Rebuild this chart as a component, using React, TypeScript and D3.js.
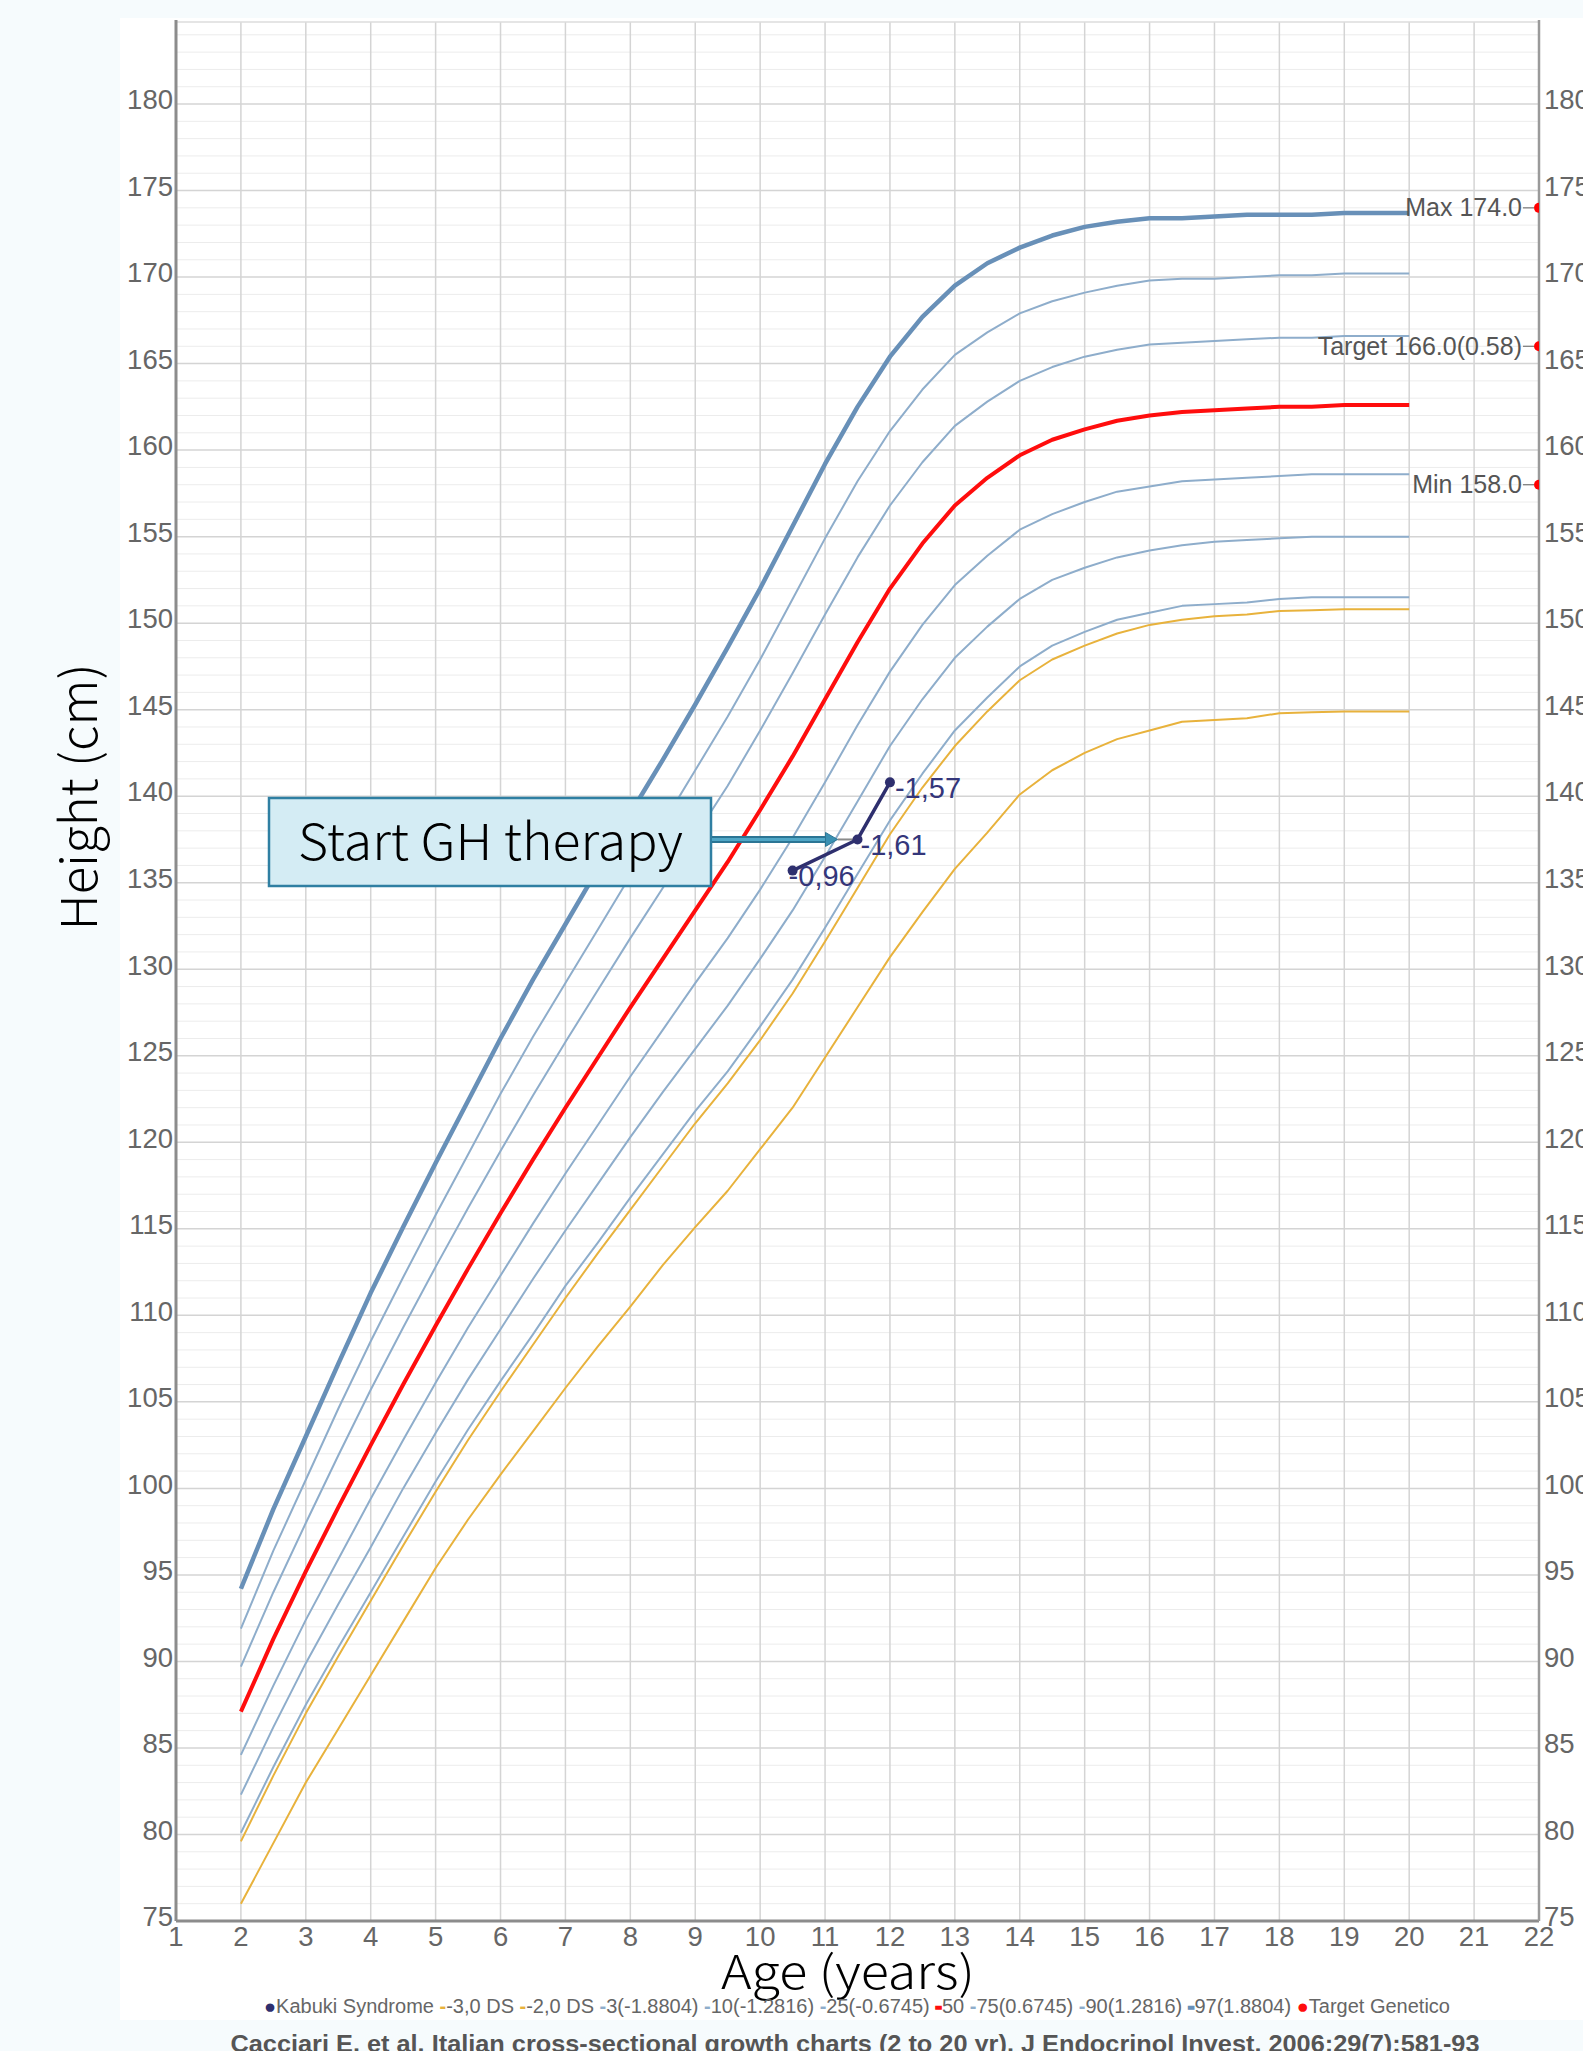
import React from "react";
import * as d3 from "d3";

// ages of the reference curves (years)
const ages = [2, 2.5, 3, 3.5, 4, 4.5, 5, 5.5, 6, 6.5, 7, 7.5, 8, 8.5, 9, 9.5, 10, 10.5, 11, 11.5,
  12, 12.5, 13, 13.5, 14, 14.5, 15, 15.5, 16, 16.5, 17, 17.5, 18, 18.5, 19, 19.5, 20];

// height percentiles (cm), Cacciari 2006, girls
const p97 = [94.2, 98.8, 103.0, 107.2, 111.3, 115.1, 118.8, 122.4, 126.0, 129.4, 132.6, 135.8, 139.0, 142.1, 145.3, 148.6, 152.0, 155.6, 159.2, 162.5,
  165.4, 167.7, 169.5, 170.8, 171.7, 172.4, 172.9, 173.2, 173.4, 173.4, 173.5, 173.6, 173.6, 173.6, 173.7, 173.7, 173.7];
const p90 = [91.9, 96.4, 100.5, 104.6, 108.5, 112.2, 115.8, 119.3, 122.8, 126.1, 129.2, 132.3, 135.4, 138.4, 141.5, 144.6, 147.9, 151.4, 154.9, 158.2,
  161.1, 163.5, 165.5, 166.8, 167.9, 168.6, 169.1, 169.5, 169.8, 169.9, 169.9, 170.0, 170.1, 170.1, 170.2, 170.2, 170.2];
const p75 = [89.7, 94.0, 98.0, 101.9, 105.7, 109.3, 112.8, 116.2, 119.5, 122.7, 125.8, 128.8, 131.8, 134.7, 137.7, 140.6, 143.8, 147.1, 150.5, 153.8,
  156.8, 159.3, 161.4, 162.8, 164.0, 164.8, 165.4, 165.8, 166.1, 166.2, 166.3, 166.4, 166.5, 166.5, 166.6, 166.6, 166.6];
const p50 = [87.1, 91.3, 95.2, 98.9, 102.5, 106.0, 109.4, 112.7, 115.9, 119.0, 122.0, 124.9, 127.8, 130.6, 133.4, 136.2, 139.2, 142.3, 145.6, 148.9,
  152.0, 154.6, 156.8, 158.4, 159.7, 160.6, 161.2, 161.7, 162.0, 162.2, 162.3, 162.4, 162.5, 162.5, 162.6, 162.6, 162.6];
const p25 = [84.6, 88.6, 92.4, 95.9, 99.4, 102.8, 106.1, 109.3, 112.3, 115.3, 118.2, 121.0, 123.8, 126.5, 129.2, 131.8, 134.6, 137.6, 140.8, 144.1,
  147.2, 149.9, 152.2, 153.9, 155.4, 156.3, 157.0, 157.6, 157.9, 158.2, 158.3, 158.4, 158.5, 158.6, 158.6, 158.6, 158.6];
const p10 = [82.3, 86.2, 89.9, 93.3, 96.6, 100.0, 103.2, 106.3, 109.2, 112.1, 114.9, 117.6, 120.3, 122.9, 125.4, 127.9, 130.6, 133.4, 136.5, 139.7,
  142.9, 145.6, 148.0, 149.8, 151.4, 152.5, 153.2, 153.8, 154.2, 154.5, 154.7, 154.8, 154.9, 155.0, 155.0, 155.0, 155.0];
const p3 = [80.1, 83.9, 87.5, 90.8, 94.0, 97.2, 100.4, 103.4, 106.2, 108.9, 111.7, 114.2, 116.8, 119.3, 121.8, 124.1, 126.7, 129.4, 132.4, 135.5,
  138.6, 141.3, 143.8, 145.7, 147.5, 148.7, 149.5, 150.2, 150.6, 151.0, 151.1, 151.2, 151.4, 151.5, 151.5, 151.5, 151.5];
const sdMinus2 = [79.6, 83.4, 87.0, 90.3, 93.5, 96.7, 99.8, 102.8, 105.6, 108.3, 111.0, 113.6, 116.1, 118.6, 121.1, 123.4, 125.9, 128.6, 131.6, 134.7,
  137.8, 140.5, 142.9, 144.9, 146.7, 147.9, 148.7, 149.4, 149.9, 150.2, 150.4, 150.5, 150.7, 150.75, 150.8, 150.8, 150.8];
const sdMinus3 = [76.0, 79.5, 83.0, 86.1, 89.2, 92.3, 95.4, 98.2, 100.8, 103.3, 105.8, 108.2, 110.5, 112.9, 115.1, 117.2, 119.6, 122.0, 124.9, 127.8,
  130.7, 133.3, 135.8, 137.9, 140.1, 141.5, 142.5, 143.3, 143.8, 144.3, 144.4, 144.5, 144.8, 144.85, 144.9, 144.9, 144.9];

// patient (Kabuki syndrome)
const kabukiAges = [10.5, 11.5, 12];
const kabukiHeights = [135.7, 137.5, 140.8];
const kabukiSds = ["-0,96", "-1,61", "-1,57"];

// genetic target
const targetValues = [174.0, 166.0, 158.0];
const targetLabels = ["Max 174.0", "Target 166.0(0.58)", "Min 158.0"];

const yTicks = [75, 80, 85, 90, 95, 100, 105, 110, 115, 120, 125, 130, 135, 140, 145, 150, 155, 160, 165, 170, 175, 180];
const xTicks = [1, 2, 3, 4, 5, 6, 7, 8, 9, 10, 11, 12, 13, 14, 15, 16, 17, 18, 19, 20, 21, 22];

const YELLOW = "#e8b23c";
const THIN = "#8eadcb";
const THICK = "#6890b8";
const RED = "#ff0d0d";
const NAVY = "#2e2f6e";

const series = [
  { name: "-3,0 DS", values: sdMinus3, color: YELLOW, width: 2 },
  { name: "-2,0 DS", values: sdMinus2, color: YELLOW, width: 2 },
  { name: "3(-1.8804)", values: p3, color: THIN, width: 2 },
  { name: "10(-1.2816)", values: p10, color: THIN, width: 2 },
  { name: "25(-0.6745)", values: p25, color: THIN, width: 2 },
  { name: "75(0.6745)", values: p75, color: THIN, width: 2 },
  { name: "90(1.2816)", values: p90, color: THIN, width: 2 },
  { name: "97(1.8804)", values: p97, color: THICK, width: 4.5 },
  { name: "50", values: p50, color: RED, width: 4 },
];

const legendItems = [
  { sym: "●", color: NAVY, label: "Kabuki Syndrome", bold: false },
  { sym: "-", color: YELLOW, label: "-3,0 DS", bold: false },
  { sym: "-", color: YELLOW, label: "-2,0 DS", bold: false },
  { sym: "-", color: THIN, label: "3(-1.8804)", bold: false },
  { sym: "-", color: THIN, label: "10(-1.2816)", bold: false },
  { sym: "-", color: THIN, label: "25(-0.6745)", bold: false },
  { sym: "-", color: RED, label: "50", bold: true },
  { sym: "-", color: THIN, label: "75(0.6745)", bold: false },
  { sym: "-", color: THIN, label: "90(1.2816)", bold: false },
  { sym: "-", color: THICK, label: "97(1.8804)", bold: true },
  { sym: "●", color: RED, label: "Target Genetico", bold: false },
];

const W = 1583;
const H = 2051;
const left = 176, right = 1539, top = 22, bottom = 1921;
const sans = "'Liberation Sans', Arial, Helvetica, sans-serif";
const titleFont = "'Noto Sans CJK JP', 'Noto Sans', sans-serif";

export default function App() {
  const x = d3.scaleLinear().domain([1, 22]).range([left, right]);
  const y = d3.scaleLinear().domain([75, 184.74]).range([bottom, top]);

  const line = (vals: number[]) =>
    d3.line<number>().x((_, i) => x(ages[i])).y((d) => y(d))(vals) || "";

  const minorTicks = d3.range(76, 185).filter((v) => v % 5 !== 0);
  const kabukiPath = d3.line<number>().x((_, i) => x(kabukiAges[i])).y((d) => y(d))(kabukiHeights) || "";
  const labelDx = [-4, 3, 5];

  const box = { x: 269, y: 798, w: 442, h: 88 };
  const arrowY = y(kabukiHeights[1]);
  const arrowTip = x(kabukiAges[1]) - 20;

  return (
    <svg width={W} height={H} style={{ position: "absolute", left: 0, top: 0 }}>
      <defs>
        <clipPath id="plot">
          <rect x={left} y={top} width={right - left} height={bottom - top} />
        </clipPath>
      </defs>
      <rect x={0} y={0} width={W} height={H} fill="#f6fbfd" />
      <rect x={120} y={18} width={W - 120} height={2020 - 18} fill="#ffffff" />

      {/* grid */}
      {minorTicks.map((v) => (
        <line key={"m" + v} x1={left} x2={right} y1={y(v)} y2={y(v)} stroke="#ececec" strokeWidth={1} />
      ))}
      {yTicks.map((v) => (
        <line key={"h" + v} x1={left} x2={right} y1={y(v)} y2={y(v)} stroke="#d4d4d4" strokeWidth={1.5} />
      ))}
      {xTicks.map((v) => (
        <line key={"v" + v} x1={x(v)} x2={x(v)} y1={top} y2={bottom} stroke="#d4d4d4" strokeWidth={1.5} />
      ))}
      <line x1={left} x2={right} y1={top} y2={top} stroke="#dcdcdc" strokeWidth={1.5} />

      {/* percentile curves */}
      {series.map((s) => (
        <path key={s.name} d={line(s.values)} fill="none" stroke={s.color} strokeWidth={s.width} strokeLinejoin="round" />
      ))}

      {/* axes */}
      <line x1={left} x2={left} y1={top - 2} y2={bottom} stroke="#8c8c8c" strokeWidth={3} />
      <line x1={left} x2={right} y1={bottom} y2={bottom} stroke="#8c8c8c" strokeWidth={3} />
      <line x1={right} x2={right} y1={top - 2} y2={bottom} stroke="#9a9a9a" strokeWidth={2.5} />

      {yTicks.map((v) => (
        <text key={"yl" + v} x={left - 3} y={y(v) - 2} textAnchor="end" dominantBaseline="middle"
          fontFamily={sans} fontSize={27.5} fill="#666">{v}</text>
      ))}
      {yTicks.map((v) => (
        <text key={"yr" + v} x={right + 5} y={y(v) - 2} textAnchor="start" dominantBaseline="middle"
          fontFamily={sans} fontSize={27.5} fill="#666">{v}</text>
      ))}
      {xTicks.map((v) => (
        <text key={"xl" + v} x={x(v)} y={bottom + 25} textAnchor="middle"
          fontFamily={sans} fontSize={27.5} fill="#666">{v}</text>
      ))}

      <text x={848} y={1989} textAnchor="middle" fontFamily={titleFont} fontWeight={300} fontSize={46} fill="#000"
        textLength={254} lengthAdjust="spacingAndGlyphs">Age (years)</text>
      <text transform="translate(97,797) rotate(-90)" textAnchor="middle" fontFamily={titleFont} fontWeight={300} fontSize={50} fill="#000"
        textLength={267} lengthAdjust="spacingAndGlyphs">Height (cm)</text>

      {/* annotation */}
      <rect x={box.x} y={box.y} width={box.w} height={box.h} fill="#d4ecf4" stroke="#2f7fa2" strokeWidth={2.5} />
      <text x={298} y={860} fontFamily={titleFont} fontWeight={300} fontSize={50} fill="#000"
        textLength={385} lengthAdjust="spacingAndGlyphs">Start GH therapy</text>
      <line x1={arrowTip} x2={x(kabukiAges[1])} y1={arrowY} y2={arrowY} stroke="#8a8a8a" strokeWidth={2} />
      <line x1={box.x + box.w + 1} x2={arrowTip - 8} y1={arrowY} y2={arrowY} stroke="#2b7594" strokeWidth={7} />
      <line x1={box.x + box.w + 1} x2={arrowTip - 8} y1={arrowY} y2={arrowY} stroke="#4fa6c6" strokeWidth={3} />
      <path d={`M${arrowTip},${arrowY} L${arrowTip - 12},${arrowY - 7} L${arrowTip - 12},${arrowY + 7} Z`} fill="#3a90b2" stroke="#2b7594" strokeWidth={1} />

      {/* patient */}
      <path d={kabukiPath} fill="none" stroke={NAVY} strokeWidth={3.5} strokeLinejoin="round" />
      {kabukiHeights.map((h, i) => (
        <circle key={"k" + i} cx={x(kabukiAges[i])} cy={y(h)} r={5} fill={NAVY} />
      ))}
      {kabukiHeights.map((h, i) => (
        <text key={"kl" + i} x={x(kabukiAges[i]) + labelDx[i]} y={y(h) + 8} dominantBaseline="middle"
          fontFamily={sans} fontSize={29} fill="#34367a">{kabukiSds[i]}</text>
      ))}

      {/* genetic target */}
      <g clipPath="url(#plot)">
        {targetValues.map((v, i) => (
          <circle key={"t" + i} cx={right} cy={y(v)} r={5} fill="#ff0000" />
        ))}
      </g>
      {targetValues.map((v, i) => (
        <g key={"tl" + i}>
          <line x1={right - 16} x2={right - 5} y1={y(v)} y2={y(v)} stroke="#777" strokeWidth={1.2} />
          <text x={right - 17} y={y(v) + 2} textAnchor="end" dominantBaseline="middle"
            fontFamily={sans} fontSize={25} fill="#555">{targetLabels[i]}</text>
        </g>
      ))}

      {/* legend */}
      <text x={264} y={2008} dominantBaseline="middle" fontFamily={sans} fontSize={19.5} textLength={1186} lengthAdjust="spacingAndGlyphs">
        {legendItems.map((it, i) => (
          <React.Fragment key={"lg" + i}>
            <tspan fill={it.color} fontWeight="bold" stroke={it.bold ? it.color : "none"} strokeWidth={it.bold ? 1.5 : 0}>{it.sym}</tspan>
            <tspan fill="#666">{it.label + (i < legendItems.length - 1 ? " " : "")}</tspan>
          </React.Fragment>
        ))}
      </text>

      <text x={855} y={2052} textAnchor="middle" fontFamily={sans} fontWeight="bold" fontSize={24} fill="#555"
        textLength={1249} lengthAdjust="spacingAndGlyphs">
        Cacciari E. et al. Italian cross-sectional growth charts (2 to 20 yr). J Endocrinol Invest. 2006;29(7):581-93
      </text>
    </svg>
  );
}
